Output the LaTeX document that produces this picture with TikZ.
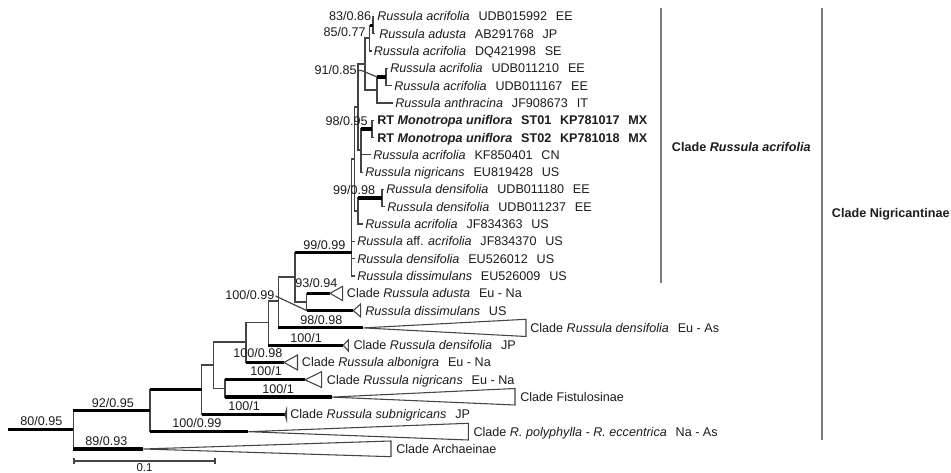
\documentclass[tikz,border=0pt]{standalone}
\usepackage{fontspec}
\setmainfont{Liberation Sans}
\definecolor{lineC}{HTML}{444444}
\definecolor{txtC}{HTML}{1C1C1C}
\definecolor{brkC}{HTML}{7A7A7A}
\newcommand{\gp}{\hspace{0.7em}}
\begin{document}
\begin{tikzpicture}[x=0.75pt,y=-0.75pt,
  br/.style={draw=lineC, line width=0.9pt},
  stem/.style={draw=black, line width=2.4pt},
  tri/.style={draw=lineC, fill=white, line width=0.8pt, line join=miter},
  brk/.style={draw=brkC, line width=1.2pt},
  lab/.style={anchor=base west, inner sep=0pt, text=txtC, font=\fontsize{9.45}{11}\selectfont},
  bsl/.style={anchor=base east, inner sep=0pt, text=txtC, font=\fontsize{9.45}{11}\selectfont},
  bsr/.style={anchor=base west, inner sep=0pt, text=txtC, font=\fontsize{9.45}{11}\selectfont}]
\useasboundingbox (0,0) rectangle (951,473);
\fill[white] (0,0) rectangle (951,473);

% ---------- tips ----------
\coordinate (t1) at (374,16.5);
\coordinate (t2) at (375,33.8);
\coordinate (t3) at (372,51.1);
\coordinate (t4) at (388,68.4);
\coordinate (t5) at (392,85.7);
\coordinate (t6) at (393,103);
\coordinate (t7) at (374,120.3);
\coordinate (t8) at (374,137.6);
\coordinate (t9) at (371,154.9);
\coordinate (t10) at (363,172.2);
\coordinate (t11) at (384,189.5);
\coordinate (t12) at (385,206.8);
\coordinate (t13) at (363,224.1);
\coordinate (t14) at (355,241.4);
\coordinate (t15) at (355,258.7);
\coordinate (t16) at (355,276);
\coordinate (a17) at (330,293.3);
\coordinate (a18) at (353.3,310.6);
\coordinate (a19) at (363.3,327.9);
\coordinate (a20) at (343.3,345.2);
\coordinate (a21) at (284,362.5);
\coordinate (a22) at (305,379.8);
\coordinate (a23) at (331.7,397.1);
\coordinate (a24) at (285,414.4);
\coordinate (a25) at (248.3,431.7);
\coordinate (a26) at (143.3,449);

% ---------- internal nodes ----------
\coordinate (n1) at (373,25.2);
\coordinate (n2) at (369.5,38);
\coordinate (n5) at (386,77);
\coordinate (n4) at (377,90);
\coordinate (n3) at (365,64);
\coordinate (n6) at (372,129);
\coordinate (n7) at (361,150);
\coordinate (nc) at (358,107);
\coordinate (n8) at (382,198);
\coordinate (nd) at (358,211);
\coordinate (nb) at (354.5,159);
\coordinate (na) at (351.5,252.5);
\coordinate (q) at (295,277);
\coordinate (r) at (306.7,302);
\coordinate (p) at (278.3,301);
\coordinate (s) at (268.3,322.4);
\coordinate (t) at (246,342);
\coordinate (v) at (225,388.5);
\coordinate (u) at (213.3,365);
\coordinate (w) at (201.7,389.7);
\coordinate (x) at (150,410.7);
\coordinate (y) at (73.3,429.8);
\coordinate (root) at (8.3,429.8);

% ---------- thin edges ----------
\foreach \pa/\ch in {n1/t1,n1/t2,n2/n1,n2/t3,n5/t4,n5/t5,n4/n5,n4/t6,n3/n2,n3/n4,
  n6/t7,n6/t8,n7/n6,n7/t9,n7/t10,nc/n3,nc/n7,n8/t11,n8/t12,nd/n8,nd/t13,
  nb/nc,nb/nd,na/nb,na/t14,na/t15,na/t16,q/na,q/r,r/a17,r/a18,p/q,p/a19,
  s/p,s/a20,t/s,t/a21,u/t,u/v,v/a22,v/a23,w/u,w/a24,x/w,x/a25,y/x,y/a26}
  \draw[br] (\pa) |- (\ch);

% ---------- thick (supported) branches ----------
\foreach \pa/\ch in {n2/n1,n4/n5,n7/n6,nd/n8,q/na,r/a17,r/a18,p/a19,s/a20,t/a21,
  v/a22,v/a23,w/a24,x/w,x/a25,y/x,y/a26}
  \draw[stem] (\pa |- \ch) -- (\ch);
\draw[stem] (root) -- (y);

% ---------- collapsed clades ----------
\draw[tri] (a17) -- (342.7,286.3) -- (342.7,300.7) -- cycle;
\draw[tri] (a18) -- (360.7,304) -- (360.7,317) -- cycle;
\draw[tri] (a19) -- (526,319.3) -- (526,336.5) -- cycle;
\draw[tri] (a20) -- (348.3,340) -- (348.3,351) -- cycle;
\draw[tri] (a21) -- (297.5,355) -- (297.5,370) -- cycle;
\draw[tri] (a22) -- (321.7,371.7) -- (321.7,387.5) -- cycle;
\draw[tri] (a23) -- (515,388.5) -- (515,405) -- cycle;
\draw[tri] (a24) -- (286.5,409.5) -- (286.5,419.5) -- cycle;
\draw[tri] (a25) -- (468.3,423.3) -- (468.3,440) -- cycle;
\draw[tri] (a26) -- (391,441) -- (391,456.7) -- cycle;

% ---------- taxon labels ----------
\node[lab] (L1) at (377,21) {\textit{Russula acrifolia}\gp UDB015992\gp EE};
\node[lab] (L2) at (379,38.3) {\textit{Russula adusta}\gp AB291768\gp JP};
\node[lab] (L3) at (373.5,55.6) {\textit{Russula acrifolia}\gp DQ421998\gp SE};
\node[lab] (L4) at (390,72.9) {\textit{Russula acrifolia}\gp UDB011210\gp EE};
\node[lab] (L5) at (394,90.2) {\textit{Russula acrifolia}\gp UDB011167\gp EE};
\node[lab] (L6) at (395,107.5) {\textit{Russula anthracina}\gp JF908673\gp IT};
\node[lab] (L7) at (377,124.8) {\textbf{RT \textit{Monotropa uniflora}\gp ST01\gp KP781017\gp MX}};
\node[lab] (L8) at (377,142.1) {\textbf{RT \textit{Monotropa uniflora}\gp ST02\gp KP781018\gp MX}};
\node[lab] (L9) at (373,159.4) {\textit{Russula acrifolia}\gp KF850401\gp CN};
\node[lab] (L10) at (365,176.7) {\textit{Russula nigricans}\gp EU819428\gp US};
\node[lab] (L11) at (386,194) {\textit{Russula densifolia}\gp UDB011180\gp EE};
\node[lab] (L12) at (387,211.3) {\textit{Russula densifolia}\gp UDB011237\gp EE};
\node[lab] (L13) at (365,228.6) {\textit{Russula acrifolia}\gp JF834363\gp US};
\node[lab] (L14) at (357,245.9) {\textit{Russula} aff. \textit{acrifolia}\gp JF834370\gp US};
\node[lab] (L15) at (357,263.2) {\textit{Russula densifolia}\gp EU526012\gp US};
\node[lab] (L16) at (357,280.5) {\textit{Russula dissimulans}\gp EU526009\gp US};
\node[lab] (L17) at (346.7,297.8) {Clade \textit{Russula adusta}\gp Eu - Na};
\node[lab] (L18) at (365,315.1) {\textit{Russula dissimulans}\gp US};
\node[lab] (L19) at (530,332.4) {Clade \textit{Russula densifolia}\gp Eu - As};
\node[lab] (L20) at (353.3,349.7) {Clade \textit{Russula densifolia}\gp JP};
\node[lab] (L21) at (301.7,367) {Clade \textit{Russula albonigra}\gp Eu - Na};
\node[lab] (L22) at (326.7,384.3) {Clade \textit{Russula nigricans}\gp Eu - Na};
\node[lab] (L23) at (520,401.6) {Clade Fistulosinae};
\node[lab] (L24) at (290,418.9) {Clade \textit{Russula subnigricans}\gp JP};
\node[lab] (L25) at (473.3,436.2) {Clade \textit{R. polyphylla - R. eccentrica}\gp Na - As};
\node[lab] (L26) at (396,453.5) {Clade Archaeinae};

% ---------- support values ----------
\node[bsl] (s1) at (371.5,20.5) {83/0.86};
\node[bsl] (s2) at (366,36.2) {85/0.77};
\node[bsl] (s3) at (357,74.5) {91/0.85};
\node[bsl] (s4) at (368,126) {98/0.95};
\node[bsl] (s5) at (375.5,194.5) {99/0.98};
\node[bsr] (s6) at (303,249.5) {99/0.99};
\node[bsr] (s7) at (295,288) {93/0.94};
\node[bsr] (s8) at (225,300) {100/0.99};
\node[bsr] (s9) at (300,325) {98/0.98};
\node[bsr] (s10) at (290,342.5) {100/1};
\node[bsr] (s11) at (233,357.5) {100/0.98};
\node[bsr] (s12) at (250,376) {100/1};
\node[bsr] (s13) at (262,393.5) {100/1};
\node[bsr] (s14) at (228,411) {100/1};
\node[bsr] (s15) at (91.7,408) {92/0.95};
\node[bsr] (s16) at (172,428) {100/0.99};
\node[bsr] (s17) at (85,446) {89/0.93};
\node[bsr] (s18) at (20,426) {80/0.95};

% leader lines
\draw[br] (s3.base east) ++(0.5,-4) -- ++(4,0) -- (n4 |- n5);
\draw[br] (s8.base east) ++(1,-4) -- (r |- a18);

% ---------- clade brackets ----------
\coordinate (b1t) at (661,8.3);
\coordinate (b1b) at (661,283.3);
\coordinate (b2t) at (821.7,8.3);
\coordinate (b2b) at (821.7,440);
\draw[brk] (b1t) -- (b1b);
\draw[brk] (b2t) -- (b2b);
\node[lab] (C1) at (671.7,151.2) {\textbf{Clade \textit{Russula acrifolia}}};
\node[lab] (C2) at (831.7,217.8) {\textbf{Clade Nigricantinae}};

% ---------- scale bar ----------
\coordinate (sb1) at (74,461);
\coordinate (sb2) at (215,461);
\draw[br] (sb1) -- (sb2);
\draw[br] (sb1) ++(0,-3) -- ++(0,6);
\draw[br] (sb2) ++(0,-3) -- ++(0,6);
\node[anchor=base, inner sep=0pt, text=txtC, font=\fontsize{8.6}{10}\selectfont] (sbl) at (144.5,472) {0.1};
\end{tikzpicture}
\end{document}
